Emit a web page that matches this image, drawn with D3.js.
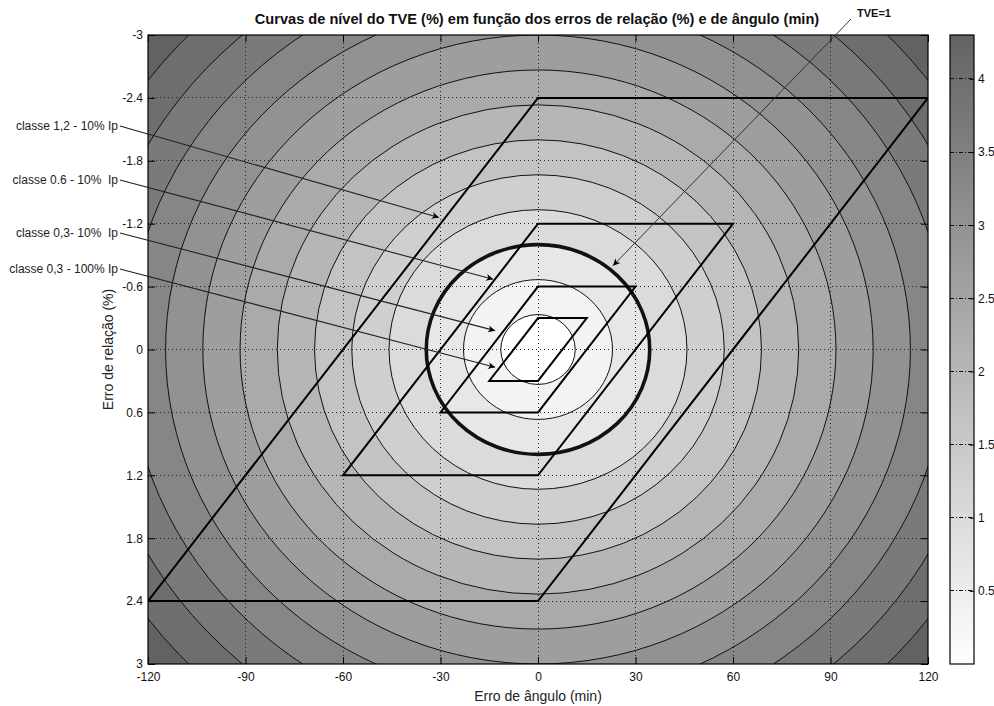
<!DOCTYPE html>
<html>
<head>
<meta charset="utf-8">
<script src="https://cdn.jsdelivr.net/npm/d3@7"></script>
<style>
  html, body { margin: 0; padding: 0; background: #fff; }
  svg { display: block; font-family: "Liberation Sans", Arial, sans-serif; }
  text { white-space: pre; }
</style>
</head>
<body>
<svg id="chart" width="994" height="706"></svg>
<script>
// ---------------- data ----------------
const titleText = "Curvas de nível do TVE (%) em função dos erros de relação (%) e de ângulo (min)";
const xLabelText = "Erro de ângulo (min)";
const yLabelText = "Erro de relação (%)";

const angleDomain = [-120, 120];            // min
const ratioDomain = [-3, 3];                // %
const angleTicks = [-120, -90, -60, -30, 0, 30, 60, 90, 120];
const ratioTicks = [-3, -2.4, -1.8, -1.2, -0.6, 0, 0.6, 1.2, 1.8, 2.4, 3];

// TVE contour levels (%)
const tveLevels = [1/3, 2/3, 1, 4/3, 5/3, 2, 7/3, 8/3, 3, 10/3, 11/3, 4, 13/3, 14/3];
const tveHighlight = 1;
const colorbarDomain = [0, 4.3];
const colorbarTicks = [0.5, 1, 1.5, 2, 2.5, 3, 3.5, 4];

// accuracy classes: ratio error limit (%) and phase displacement limit (min)
const classLabels = ["classe 1,2 - 10% Ip", "classe 0.6 - 10%  Ip", "classe 0,3- 10%  Ip", "classe 0,3 - 100% Ip"];
const classRatioLimits = [2.4, 1.2, 0.6, 0.3];
const classAngleLimits = [120, 60, 30, 15];

// arrow tips (data units) for the class labels and TVE=1 label
const classTipAngles = [-30.5, -13.8, -13.2, -13.2];
const classTipRatios = [-1.26, -0.67, -0.18, 0.17];
const tveLabelText = "TVE=1";
const tveTipAngle = 23.1;
const tveTipRatio = -0.80;

// ---------------- layout ----------------
const W = 994, H = 706;
const plot = { left: 148, top: 35, right: 928, bottom: 664 };
const cbar = { left: 950, right: 974 };
const labelRight = 118;
const classTailY = [126, 180, 233, 269];
const tveTail = [851, 19];

// minutes -> percent (radians * 100)
const minToPct = Math.PI / (180 * 60) * 100;

const svg = d3.select("#chart");
const x = d3.scaleLinear().domain(angleDomain).range([plot.left, plot.right]);
const y = d3.scaleLinear().domain(ratioDomain).range([plot.top, plot.bottom]);
const color = d3.scaleLinear().domain(colorbarDomain).range(["#ffffff", "#636363"]);

const defs = svg.append("defs");
defs.append("clipPath").attr("id", "plotClip")
  .append("rect").attr("x", plot.left).attr("y", plot.top)
  .attr("width", plot.right - plot.left).attr("height", plot.bottom - plot.top);

defs.append("marker").attr("id", "arrow")
  .attr("viewBox", "0 0 10 10").attr("refX", 10).attr("refY", 5)
  .attr("markerUnits", "userSpaceOnUse")
  .attr("markerWidth", 11).attr("markerHeight", 7)
  .attr("orient", "auto")
  .append("path").attr("d", "M0,0 L10,5 L0,10 L3,5 Z").attr("fill", "#000");

const g = svg.append("g").attr("clip-path", "url(#plotClip)");

// filled bands (largest first)
const levelsDesc = tveLevels.map((l, i) => ({ level: l, fillVal: i === 0 ? 0 : tveLevels[i - 1] })).reverse();
g.append("rect").attr("x", plot.left).attr("y", plot.top)
  .attr("width", plot.right - plot.left).attr("height", plot.bottom - plot.top)
  .attr("fill", color(tveLevels[tveLevels.length - 1]));
g.selectAll("ellipse.band").data(levelsDesc).enter().append("ellipse")
  .attr("class", "band")
  .attr("cx", x(0)).attr("cy", y(0))
  .attr("rx", d => x(d.level / minToPct) - x(0))
  .attr("ry", d => y(d.level) - y(0))
  .attr("fill", d => color(d.fillVal))
  .attr("stroke", "none");

// grid
const gridColor = "#222";
g.selectAll("line.gx").data(angleTicks.slice(1, -1)).enter().append("line")
  .attr("x1", d => x(d)).attr("x2", d => x(d))
  .attr("y1", plot.top).attr("y2", plot.bottom)
  .attr("stroke", gridColor).attr("stroke-width", 1).attr("stroke-dasharray", "1,3")
  .attr("shape-rendering", "crispEdges");
g.selectAll("line.gy").data(ratioTicks.slice(1, -1)).enter().append("line")
  .attr("y1", d => y(d)).attr("y2", d => y(d))
  .attr("x1", plot.left).attr("x2", plot.right)
  .attr("stroke", gridColor).attr("stroke-width", 1).attr("stroke-dasharray", "1,3")
  .attr("shape-rendering", "crispEdges");

// contour lines
g.selectAll("ellipse.contour").data(tveLevels).enter().append("ellipse")
  .attr("class", "contour")
  .attr("cx", x(0)).attr("cy", y(0))
  .attr("rx", d => x(d / minToPct) - x(0))
  .attr("ry", d => y(d) - y(0))
  .attr("fill", "none")
  .attr("stroke", "#111")
  .attr("stroke-width", d => d === tveHighlight ? 3.6 : 1);

// class parallelograms
const pgLine = d3.line().x(d => x(d[0])).y(d => y(d[1]));
const pgData = classRatioLimits.map((r, i) => {
  const a = classAngleLimits[i];
  return [[0, -r], [a, -r], [0, r], [-a, r], [0, -r]];
});
g.selectAll("path.pg").data(pgData).enter().append("path")
  .attr("d", d => pgLine(d) + "Z")
  .attr("fill", "none").attr("stroke", "#000").attr("stroke-width", 2)
  .attr("stroke-linejoin", "miter");

// axes
const fmt = d => String(d);
const axB = svg.append("g").attr("transform", `translate(0,${plot.bottom})`)
  .call(d3.axisBottom(x).tickValues(angleTicks).tickFormat(fmt).tickSizeInner(-7).tickSizeOuter(0).tickPadding(8));
const axT = svg.append("g").attr("transform", `translate(0,${plot.top})`)
  .call(d3.axisTop(x).tickValues(angleTicks).tickFormat("").tickSizeInner(-7).tickSizeOuter(0));
const axL = svg.append("g").attr("transform", `translate(${plot.left},0)`)
  .call(d3.axisLeft(y).tickValues(ratioTicks).tickFormat(fmt).tickSizeInner(-7).tickSizeOuter(0).tickPadding(5));
const axR = svg.append("g").attr("transform", `translate(${plot.right},0)`)
  .call(d3.axisRight(y).tickValues(ratioTicks).tickFormat("").tickSizeInner(-7).tickSizeOuter(0));
[axB, axT, axL, axR].forEach(a => {
  a.select(".domain").remove();
  a.selectAll("line").attr("stroke", "#000");
  a.selectAll("text").attr("font-size", 12).attr("fill", "#111")
    .attr("font-family", "'Liberation Sans', Arial, sans-serif");
});
svg.append("rect").attr("x", plot.left).attr("y", plot.top)
  .attr("width", plot.right - plot.left).attr("height", plot.bottom - plot.top)
  .attr("fill", "none").attr("stroke", "#000").attr("stroke-width", 1.2);

// annotations
const ann = svg.append("g");
classLabels.forEach((lab, i) => {
  const ty = classTailY[i];
  ann.append("text").attr("x", labelRight).attr("y", ty).attr("dy", "0.35em")
    .attr("text-anchor", "end").attr("font-size", 12).attr("fill", "#222").text(lab);
  ann.append("line").attr("x1", labelRight + 2).attr("y1", ty)
    .attr("x2", x(classTipAngles[i])).attr("y2", y(classTipRatios[i]))
    .attr("stroke", "#222").attr("stroke-width", 1.1).attr("marker-end", "url(#arrow)");
});
ann.append("text").attr("x", tveTail[0] + 6).attr("y", tveTail[1] - 2)
  .attr("font-size", 11).attr("font-weight", "bold").attr("fill", "#111").text(tveLabelText);
ann.append("line").attr("x1", tveTail[0]).attr("y1", tveTail[1])
  .attr("x2", x(tveTipAngle)).attr("y2", y(tveTipRatio))
  .attr("stroke", "#333").attr("stroke-width", 1).attr("marker-end", "url(#arrow)");

// title and axis labels
svg.append("text").attr("x", 537).attr("y", 24)
  .attr("text-anchor", "middle").attr("font-size", 14.6).attr("font-weight", "bold").attr("fill", "#111")
  .text(titleText);
svg.append("text").attr("x", (plot.left + plot.right) / 2).attr("y", 701)
  .attr("text-anchor", "middle").attr("font-size", 14).attr("fill", "#222").text(xLabelText);
svg.append("text").attr("transform", `translate(113,${(plot.top + plot.bottom) / 2}) rotate(-90)`)
  .attr("text-anchor", "middle").attr("font-size", 14).attr("fill", "#222").text(yLabelText);

// colorbar
const cb = d3.scaleLinear().domain(colorbarDomain).range([plot.bottom, plot.top]);
const grad = defs.append("linearGradient").attr("id", "cbGrad")
  .attr("x1", 0).attr("y1", 1).attr("x2", 0).attr("y2", 0);
const stopVals = d3.range(0, 11).map(i => colorbarDomain[0] + (colorbarDomain[1] - colorbarDomain[0]) * i / 10);
grad.selectAll("stop").data(stopVals).enter().append("stop")
  .attr("offset", (d, i) => i / 10).attr("stop-color", d => color(d));
svg.append("rect").attr("x", cbar.left).attr("y", plot.top)
  .attr("width", cbar.right - cbar.left).attr("height", plot.bottom - plot.top)
  .attr("fill", "url(#cbGrad)");
svg.selectAll("line.cbgrid").data(colorbarTicks).enter().append("line")
  .attr("x1", cbar.left).attr("x2", cbar.right)
  .attr("y1", d => cb(d)).attr("y2", d => cb(d))
  .attr("stroke", "#111").attr("stroke-dasharray", "4,2,1,2")
  .attr("shape-rendering", "crispEdges");
const axC = svg.append("g").attr("transform", `translate(${cbar.right},0)`)
  .call(d3.axisRight(cb).tickValues(colorbarTicks).tickFormat(fmt).tickSizeInner(-4).tickSizeOuter(0).tickPadding(4));
axC.select(".domain").remove();
axC.selectAll("line").attr("stroke", "#000");
axC.selectAll("text").attr("font-size", 12).attr("fill", "#111")
  .attr("font-family", "'Liberation Sans', Arial, sans-serif");
svg.append("rect").attr("x", cbar.left).attr("y", plot.top)
  .attr("width", cbar.right - cbar.left).attr("height", plot.bottom - plot.top)
  .attr("fill", "none").attr("stroke", "#000").attr("stroke-width", 1.2);
</script>
</body>
</html>
